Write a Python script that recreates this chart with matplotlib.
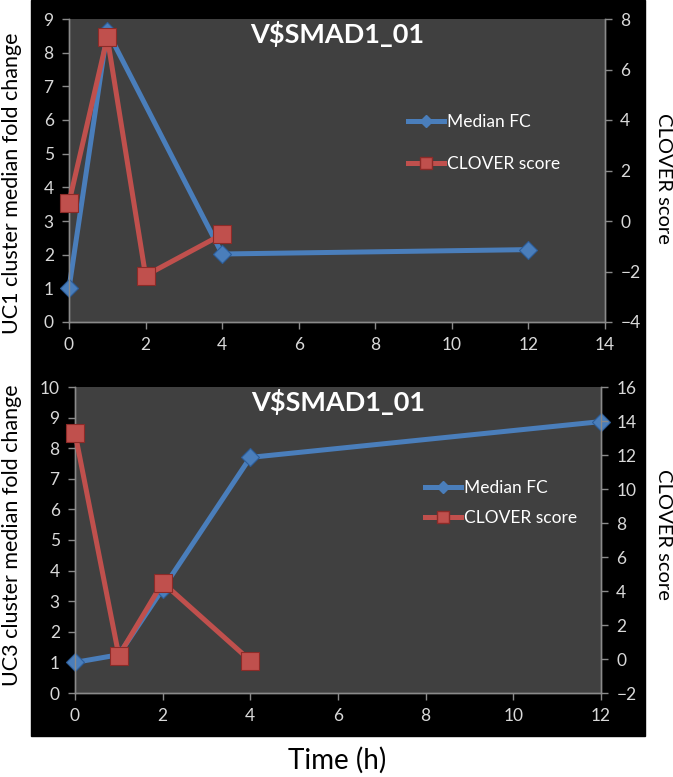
import matplotlib
matplotlib.use("Agg")
import matplotlib.pyplot as plt
from matplotlib.patches import Rectangle
from matplotlib.lines import Line2D

plt.rcParams['font.family'] = ['Lato', 'DejaVu Sans']

# top panel (UC1)
uc1_fc_time = [0, 1, 4, 12]
uc1_fc = [1.0, 8.65, 2.02, 2.15]
uc1_clover_time = [0, 1, 2, 4]
uc1_clover = [0.73, 7.27, -2.16, -0.53]

# bottom panel (UC3)
uc3_fc_time = [0, 1, 2, 4, 12]
uc3_fc = [1.0, 1.25, 3.4, 7.7, 8.87]
uc3_clover_time = [0, 1, 2, 4]
uc3_clover = [13.3, 0.2, 4.5, -0.1]

title = 'V\\$SMAD1_01'

BLUE = '#4a7ebb'
RED = '#c0504d'
PLOT_BG = '#404040'
SPINE = '#8a8a8a'
TICKTXT = '#d9d9d9'

W, H = 673, 777
fig = plt.figure(figsize=(W / 100, H / 100), dpi=100)
fig.patch.set_facecolor('white')
fig.patches.append(Rectangle((31 / W, 1 - 736 / H), (645 - 31) / W, 736 / H,
                             transform=fig.transFigure, color='black', zorder=-10))


def px_axes(x0, y0, x1, y1):
    return fig.add_axes([x0 / W, 1 - y1 / H, (x1 - x0) / W, (y1 - y0) / H])


def panel(ax, fc_t, fc, cl_t, cl, xmax, ylim, yticks, y2lim, y2ticks, leg_pos, leg_space):
    ax.set_facecolor(PLOT_BG)
    ax.plot(fc_t, fc, color=BLUE, lw=3.6, marker='D', ms=9.5,
            mfc=BLUE, mec='#2c5d9a', mew=0.8, zorder=3, clip_on=False)
    ax.set_xlim(0, xmax)
    ax.set_xticks(range(0, xmax + 1, 2))
    ax.set_ylim(*ylim)
    ax.set_yticks(yticks)

    ax2 = ax.twinx()
    ax2.plot(cl_t, cl, color=RED, lw=3.6, marker='s', ms=12.5,
             mfc=RED, mec='#8c2b28', mew=0.8, zorder=3, clip_on=False)
    ax2.set_ylim(*y2lim)
    ax2.set_yticks(y2ticks)

    for a in (ax, ax2):
        a.spines['top'].set_visible(False)
        for s in ('left', 'right', 'bottom'):
            a.spines[s].set_color(SPINE)
            a.spines[s].set_linewidth(1.0)
        a.tick_params(colors=SPINE, labelcolor=TICKTXT, labelsize=12.5,
                      direction='out', length=5, width=1, pad=6)

    ax.text(0.5, 0.952, title, transform=ax.transAxes, ha='center', va='center',
            color='white', fontsize=19.5, fontweight='bold', zorder=5)

    handles = [
        Line2D([], [], color=BLUE, lw=3.6, marker='D', ms=6, mfc=BLUE, mec=BLUE),
        Line2D([], [], color=RED, lw=3.6, marker='s', ms=8, mfc=RED, mec='#8c2b28'),
    ]
    ax2.legend(handles, ['Median FC', 'CLOVER score'], loc='center left',
               bbox_to_anchor=leg_pos, frameon=False, fontsize=12.5,
               labelcolor='white', handlelength=2.1, handletextpad=0.15,
               borderpad=0, borderaxespad=0, labelspacing=leg_space)
    return ax2


ax_top = px_axes(69, 19, 605, 322)
panel(ax_top, uc1_fc_time, uc1_fc, uc1_clover_time, uc1_clover,
      14, (0, 9), range(0, 10), (-4, 8), range(-4, 9, 2), (0.632, 0.59), 1.5)

ax_bot = px_axes(75, 387, 601, 693)
panel(ax_bot, uc3_fc_time, uc3_fc, uc3_clover_time, uc3_clover,
      12, (0, 10), range(0, 11), (-2, 16), range(-2, 17, 2), (0.665, 0.62), 0.8)

fig.text(12 / W, 1 - 183 / H, 'UC1 cluster median fold change', rotation=90,
         ha='center', va='center', fontsize=15.5, color='black')
fig.text(12 / W, 1 - 535 / H, 'UC3 cluster median fold change', rotation=90,
         ha='center', va='center', fontsize=15.5, color='black')
fig.text(663 / W, 1 - 178 / H, 'CLOVER score', rotation=-90,
         ha='center', va='center', fontsize=14.5, color='black')
fig.text(663 / W, 1 - 534 / H, 'CLOVER score', rotation=-90,
         ha='center', va='center', fontsize=14.5, color='black')
fig.text(337 / W, 1 - 760 / H, 'Time (h)', ha='center', va='center',
         fontsize=20, color='black')

fig.savefig('out.png', dpi=100, facecolor='white')
